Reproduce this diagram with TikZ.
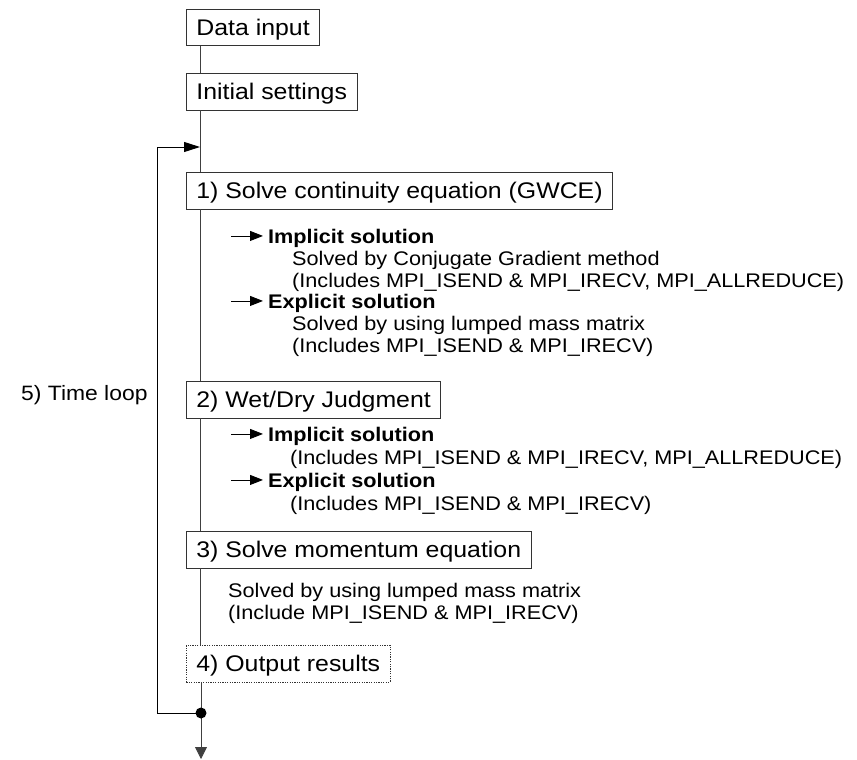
\documentclass[tikz,border=0pt]{standalone}
\usepackage{fontspec}
\setmainfont{Liberation Sans}[FakeStretch=1.1]
\usetikzlibrary{arrows.meta,calc}
\begin{document}
\begin{tikzpicture}[x=1pt,y=-1pt,
  box/.style={draw=black!80, line width=0.8pt, anchor=north west, inner xsep=10pt, inner ysep=0pt,
    minimum height=36.5pt, text height=16.1pt, text depth=0pt, font=\fontsize{22.6}{26}\selectfont},
  dotbox/.style={box, dash pattern=on 1.2pt off 1.2pt},
  bodytxt/.style={anchor=base west, inner sep=0pt, text height=14.1pt, text depth=0pt,
    font=\fontsize{19.7}{23}\selectfont},
  bigtxt/.style={anchor=base west, inner sep=0pt, font=\fontsize{20.8}{24}\selectfont},
  spineline/.style={draw=black!75, line width=0.8pt},
  loopline/.style={draw=black, line width=1pt},
  bul/.style={draw=black, line width=0.9pt, -{Triangle[length=13pt,width=10pt]}},
  bigarrow/.style={loopline, -{Triangle[length=16pt,width=10pt]}},
  endarrow/.style={spineline, -{Triangle[length=12pt,width=12pt]}}
]
\useasboundingbox (0,0) rectangle (857,760);
\coordinate (spine) at (200,0);

\node[box] (data) at (186,9) {Data input};
\node[box] (init) at (186,73) {Initial settings};
\node[box] (c1) at (186,172) {1) Solve continuity equation (GWCE)};
\node[box] (c2) at (186,381) {2) Wet/Dry Judgment};
\node[box] (c3) at (186,531) {3) Solve momentum equation};
\node[dotbox] (c4) at (186,645) {4) Output results};

% section 1
\node[bodytxt] (i1) at (268,243) {\bfseries Implicit solution};
\node[bodytxt] (i1a) at (292,265) {Solved by Conjugate Gradient method};
\node[bodytxt] (i1b) at (292,287) {(Includes MPI\_ISEND \& MPI\_IRECV, MPI\_ALLREDUCE)};
\node[bodytxt] (e1) at (268,308) {\bfseries Explicit solution};
\node[bodytxt] (e1a) at (292,330) {Solved by using lumped mass matrix};
\node[bodytxt] (e1b) at (292,352) {(Includes MPI\_ISEND \& MPI\_IRECV)};
\draw[bul] ($(i1.west)+(-37,0)$) coordinate (i1s) -- ($(i1.west)+(-5,0)$) coordinate (i1e);
\draw[bul] ($(e1.west)+(-37,0)$) coordinate (e1s) -- ($(e1.west)+(-5,0)$) coordinate (e1e);

% section 2
\node[bodytxt] (i2) at (268,441) {\bfseries Implicit solution};
\node[bodytxt] (i2b) at (290,464) {(Includes MPI\_ISEND \& MPI\_IRECV, MPI\_ALLREDUCE)};
\node[bodytxt] (e2) at (268,487) {\bfseries Explicit solution};
\node[bodytxt] (e2b) at (290,510) {(Includes MPI\_ISEND \& MPI\_IRECV)};
\draw[bul] ($(i2.west)+(-37,0)$) coordinate (i2s) -- ($(i2.west)+(-5,0)$) coordinate (i2e);
\draw[bul] ($(e2.west)+(-37,0)$) coordinate (e2s) -- ($(e2.west)+(-5,0)$) coordinate (e2e);

% section 3
\node[bodytxt] (m1) at (228,597) {Solved by using lumped mass matrix};
\node[bodytxt] (m2) at (228,619) {(Include MPI\_ISEND \& MPI\_IRECV)};

% time loop label
\node[bigtxt] (tl) at (21,400) {5) Time loop};

% spine
\draw[spineline] (data.south -| spine) -- (init.north -| spine);
\draw[spineline] (init.south -| spine) -- (c1.north -| spine);
\draw[spineline] (c1.south -| spine) -- (c2.north -| spine);
\draw[spineline] (c2.south -| spine) -- (c3.north -| spine);
\draw[spineline] (c3.south -| spine) -- (c4.north -| spine);

\coordinate (j) at (201,713);
\coordinate (lp) at (157,147);
\coordinate (ent) at (200,147);
\coordinate (fin) at (201,759);
\draw[spineline] (c4.south -| j) -- (j);
\draw[endarrow] (j) -- (fin);
\draw[bigarrow] (j) -| (lp) -- (ent);
\fill (j) circle (5.5);
\end{tikzpicture}
\end{document}
